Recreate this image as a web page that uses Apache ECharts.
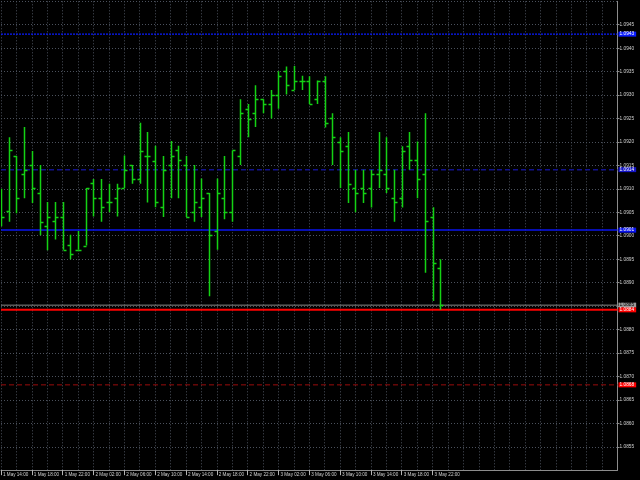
<!DOCTYPE html>
<html><head><meta charset="utf-8">
<script src="https://cdn.jsdelivr.net/npm/echarts@6/dist/echarts.min.js"></script>
<style>html,body{margin:0;padding:0;background:#000}#c{width:640px;height:480px}</style>
</head><body><div id="c"></div>
<script>
// Hourly bars, 1 May 14:00 .. 3 May 23:00
const tickLabels = ["1 May 14:00","1 May 18:00","1 May 22:00","2 May 02:00","2 May 06:00","2 May 10:00","2 May 14:00","2 May 18:00","2 May 22:00","3 May 02:00","3 May 06:00","3 May 10:00","3 May 14:00","3 May 18:00","3 May 22:00"];
const opens = [1.09080,1.09053,1.09170,1.09132,1.09151,1.09091,1.09021,1.09032,1.09041,1.08981,1.08970,1.08979,1.09112,1.09080,1.09071,1.09080,1.09102,1.09151,1.09121,1.09170,1.09160,1.09062,1.09151,1.09182,1.09151,1.09050,1.09062,1.09091,1.09011,1.09081,1.09050,1.09170,1.09271,1.09261,1.09291,1.09281,1.09301,1.09351,1.09311,1.09331,1.09331,1.09291,1.09331,1.09251,1.09201,1.09191,1.09102,1.09102,1.09102,1.09132,1.09132,1.09080,1.09080,1.09191,1.09161,1.09132,1.09041,1.08931];
const highs = [1.09100,1.09210,1.09170,1.09232,1.09181,1.09151,1.09072,1.09072,1.09072,1.09002,1.09010,1.09102,1.09121,1.09121,1.09111,1.09111,1.09171,1.09151,1.09241,1.09221,1.09192,1.09170,1.09202,1.09192,1.09170,1.09151,1.09122,1.09091,1.09122,1.09170,1.09182,1.09291,1.09281,1.09321,1.09291,1.09311,1.09351,1.09361,1.09362,1.09341,1.09340,1.09331,1.09340,1.09261,1.09210,1.09221,1.09141,1.09141,1.09141,1.09221,1.09210,1.09141,1.09191,1.09221,1.09201,1.09261,1.09061,1.08950];
const lows = [1.09020,1.09030,1.09048,1.09080,1.09070,1.09001,1.08969,1.08992,1.08970,1.08950,1.08970,1.08979,1.09041,1.09030,1.09050,1.09041,1.09102,1.09111,1.09111,1.09071,1.09061,1.09040,1.09080,1.09080,1.09040,1.09030,1.09040,1.08871,1.08970,1.09035,1.09030,1.09151,1.09210,1.09232,1.09261,1.09250,1.09271,1.09301,1.09311,1.09311,1.09281,1.09281,1.09231,1.09151,1.09102,1.09070,1.09050,1.09070,1.09060,1.09102,1.09091,1.09030,1.09060,1.09141,1.09080,1.08921,1.08861,1.08842];
const closes = [1.09041,1.09183,1.09080,1.09141,1.09102,1.09030,1.09041,1.09041,1.08970,1.08961,1.08970,1.09102,1.09080,1.09061,1.09071,1.09102,1.09141,1.09121,1.09181,1.09170,1.09071,1.09141,1.09170,1.09162,1.09041,1.09071,1.09081,1.09002,1.09091,1.09050,1.09182,1.09261,1.09250,1.09291,1.09281,1.09301,1.09341,1.09321,1.09331,1.09331,1.09281,1.09331,1.09240,1.09210,1.09181,1.09110,1.09092,1.09092,1.09132,1.09141,1.09102,1.09071,1.09181,1.09161,1.09121,1.09032,1.08941,1.08852];
// horizontal levels
const levelValues = [1.09430, 1.09141, 1.09012, 1.08852, 1.08842, 1.08682];
const levelColors = ['#0a1cff', '#12128c', '#0a14ee', '#8a8a8a', '#ff0000', '#9a0c0c'];
const levelLabelBg = ['#0a1cff', '#1515c8', '#0a14ee', '#9a9a9a', '#ff0000', '#ff0000'];
const levelTypes = [[2,1], [5,3], 'solid', 'solid', 'solid', [5,3]];
const levelWidths = [1.2, 1.5, 1.5, 1, 2, 1];

const NSLOTS = 81;
const xCats = Array.from({length: NSLOTS}, (_, i) => String(i));
const barData = opens.map((o, i) => [i, o, highs[i], lows[i], closes[i]]);

const chart = echarts.init(document.getElementById('c'), null, {renderer: 'canvas'});
const GREEN = '#14d214';
const FONT = 'Liberation Sans';
const labelIdx = (i) => i % 4 === 0 && (i / 4) < tickLabels.length;

const levelSeries = levelValues.map((v, i) => ({
  type: 'line', data: [[0, v], [NSLOTS - 1, v]], showSymbol: false, symbol: 'none', silent: true, z: 1,
  lineStyle: {color: levelColors[i], type: levelTypes[i], width: levelWidths[i]},
  endLabel: {show: true, distance: 1, formatter: () => v.toFixed(4),
    backgroundColor: levelLabelBg[i], color: i === 3 ? '#000' : '#fff', fontSize: 4.8, fontFamily: FONT,
    padding: [0, 2, 0, 1]}
}));

chart.setOption({
  backgroundColor: '#000000',
  animation: false,
  grid: {left: -1, right: 22.5, top: 1.3, bottom: 9.8, containLabel: false},
  xAxis: {
    type: 'category', data: xCats, boundaryGap: false,
    axisLine: {show: true, lineStyle: {color: '#8c8c8c', width: 1}},
    axisTick: {show: true, interval: (i) => labelIdx(i), length: 5, lineStyle: {color: '#b4b4b4'}},
    axisLabel: {show: true, interval: (i) => labelIdx(i), formatter: (v, i) => labelIdx(i) ? tickLabels[i / 4] : '',
      align: 'left', margin: 2, color: '#d0d0d0', fontSize: 4.6, fontFamily: FONT, padding: [0,0,0,2]},
    splitLine: {show: true, interval: (i) => i % 2 === 0, lineStyle: {color: '#4b515c', type: [1, 2], width: 1}}
  },
  yAxis: {
    type: 'value', position: 'right', min: 1.0850, max: 1.0950, interval: 0.0005, scale: true,
    axisLine: {show: true, lineStyle: {color: '#8c8c8c', width: 1}},
    axisTick: {show: true, length: 2, lineStyle: {color: '#8c8c8c'}},
    axisLabel: {show: true, showMinLabel: false, showMaxLabel: false, formatter: (v) => v.toFixed(4), margin: 2, color: '#d0d0d0', fontSize: 4.8, fontFamily: FONT},
    splitLine: {show: true, lineStyle: {color: '#4b515c', type: [1, 2], width: 1}}
  },
  series: levelSeries.concat([
    {
      type: 'custom', clip: true, z: 3,
      data: barData,
      encode: {x: 0, y: [1, 2, 3, 4]},
      renderItem: function (params, api) {
        const idx = api.value(0);
        const x = api.coord([idx, api.value(1)])[0];
        const yo = api.coord([idx, api.value(1)])[1];
        const yh = api.coord([idx, api.value(2)])[1];
        const yl = api.coord([idx, api.value(3)])[1];
        const yc = api.coord([idx, api.value(4)])[1];
        const xc = Math.round(x) + 0.5;
        const t = 3;
        const st = {stroke: GREEN, lineWidth: 1.5};
        return {type: 'group', children: [
          {type: 'line', shape: {x1: xc, y1: yh, x2: xc, y2: yl}, style: st},
          {type: 'line', shape: {x1: xc - t, y1: Math.round(yo) + 0.5, x2: xc, y2: Math.round(yo) + 0.5}, style: st},
          {type: 'line', shape: {x1: xc, y1: Math.round(yc) + 0.5, x2: xc + t, y2: Math.round(yc) + 0.5}, style: st}
        ]};
      }
    }
  ])
});
</script>
</body></html>
